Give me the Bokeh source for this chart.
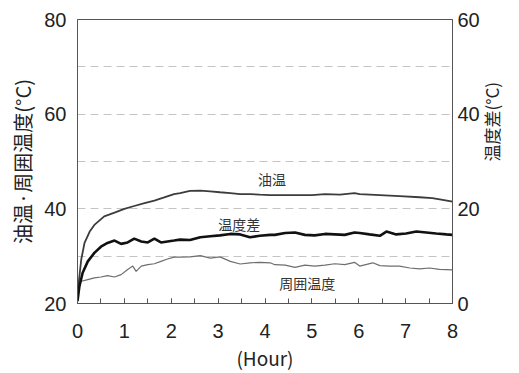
import math
from bokeh.plotting import figure
from bokeh.models import Range1d, LinearAxis, FixedTicker, Label
from bokeh.embed import file_html
from bokeh.resources import INLINE

# --- data ---
oil_h = [0.0, 0.04, 0.08, 0.15, 0.26, 0.36, 0.57, 0.79, 1.0, 1.21, 1.43, 1.64, 1.85, 2.06,
         2.19, 2.40, 2.62, 2.83, 3.04, 3.26, 3.47, 3.68, 3.89, 4.11, 4.5, 5.0, 5.28, 5.6,
         5.91, 6.02, 6.45, 6.87, 7.30, 7.57, 7.79, 8.0]
oil_t = [22.0, 25.7, 29.3, 32.8, 35.2, 36.6, 38.4, 39.2, 40.0, 40.6, 41.2, 41.75, 42.4, 43.1,
         43.3, 43.8, 43.85, 43.7, 43.5, 43.3, 43.1, 43.1, 43.0, 42.9, 42.9, 42.9, 43.1, 43.0,
         43.3, 43.1, 42.9, 42.7, 42.45, 42.25, 41.9, 41.5]

diff_h = [0.0, 0.04, 0.11, 0.22, 0.36, 0.50, 0.64, 0.79, 0.93, 1.07, 1.21, 1.36, 1.50, 1.64,
          1.78, 1.92, 2.06, 2.19, 2.40, 2.62, 2.83, 3.04, 3.26, 3.47, 3.68, 3.89, 4.11, 4.21,
          4.43, 4.64, 4.85, 5.06, 5.28, 5.49, 5.70, 5.91, 6.02, 6.23, 6.45, 6.59, 6.80, 7.01,
          7.23, 7.44, 7.65, 7.87, 8.0]
diff_t = [0.5, 3.6, 6.5, 8.9, 10.7, 12.0, 12.8, 13.3, 12.6, 12.9, 13.7, 13.1, 12.9, 13.7,
          12.9, 13.1, 13.3, 13.5, 13.4, 14.0, 14.2, 14.4, 14.7, 14.6, 14.0, 14.3, 14.5, 14.5,
          14.9, 15.0, 14.5, 14.4, 14.7, 14.6, 14.5, 15.0, 14.9, 14.6, 14.3, 15.2, 14.6, 14.8,
          15.2, 15.0, 14.8, 14.6, 14.5]

amb_h = [0.0, 0.03, 0.08, 0.22, 0.36, 0.50, 0.64, 0.79, 0.93, 1.07, 1.18, 1.25, 1.36, 1.50,
         1.64, 1.78, 1.92, 2.06, 2.19, 2.40, 2.62, 2.83, 3.04, 3.26, 3.47, 3.68, 3.89, 4.11,
         4.21, 4.43, 4.64, 4.85, 5.06, 5.28, 5.49, 5.70, 5.91, 6.02, 6.30, 6.45, 6.66, 6.87,
         7.09, 7.30, 7.51, 7.72, 8.0]
amb_t = [21.0, 24.0, 24.7, 25.05, 25.4, 25.6, 25.9, 25.6, 26.1, 27.2, 27.9, 26.8, 27.9, 28.2,
         28.4, 28.9, 29.4, 29.8, 29.8, 29.85, 30.1, 29.6, 29.85, 28.9, 28.35, 28.6, 28.7, 28.6,
         28.2, 28.1, 27.65, 28.1, 27.9, 28.1, 28.4, 28.2, 28.7, 27.9, 28.6, 28.0, 27.9, 27.9,
         27.5, 27.3, 27.5, 27.2, 27.1]

x_ticks = [0, 1, 2, 3, 4, 5, 6, 7, 8]
left_ticks = [20, 40, 60, 80]
right_ticks = [0, 20, 40, 60]
grid_ticks = [30, 40, 50, 60, 70]

JP = "Noto Sans CJK JP"
NUM = "Liberation Sans"

p = figure(width=519, height=373, output_backend="svg", toolbar_location=None,
           x_range=Range1d(0, 8), y_range=Range1d(20, 80),
           min_border_left=77, min_border_right=66, min_border_top=19, min_border_bottom=69)
p.extra_y_ranges = {"diff": Range1d(0, 60)}

p.outline_line_color = "#555555"
p.outline_line_width = 1
p.background_fill_color = "white"
p.border_fill_color = "white"

# x axis
xa = p.xaxis[0]
xa.ticker = FixedTicker(ticks=x_ticks, minor_ticks=[i * 0.5 for i in range(17)])
xa.major_tick_in = 5
xa.major_tick_out = 0
xa.minor_tick_in = 5
xa.minor_tick_out = 0
xa.major_tick_line_color = "#555555"
xa.minor_tick_line_color = "#555555"
xa.axis_line_color = "#555555"
xa.major_label_text_font = NUM
xa.major_label_text_font_size = "20px"
xa.major_label_text_color = "#222222"
xa.major_label_standoff = 20
xa.axis_label = "(Hour)"
xa.axis_label_text_font = JP
xa.axis_label_text_font_size = "19px"
xa.axis_label_text_font_style = "normal"
xa.axis_label_text_color = "#222222"
xa.axis_label_standoff = 3

# left axis
ya = p.yaxis[0]
ya.ticker = FixedTicker(ticks=left_ticks)
ya.major_tick_in = 0
ya.major_tick_out = 0
ya.minor_tick_line_color = None
ya.axis_line_color = "#555555"
ya.major_label_text_font = NUM
ya.major_label_text_font_size = "20px"
ya.major_label_text_color = "#222222"
ya.major_label_standoff = 11
ya.axis_label = "油温·周囲温度(°C)"
ya.axis_label_text_font = JP
ya.axis_label_text_font_size = "20px"
ya.axis_label_text_font_style = "normal"
ya.axis_label_text_color = "#222222"
ya.axis_label_standoff = 4

# right axis
ra = LinearAxis(y_range_name="diff", ticker=FixedTicker(ticks=right_ticks))
ra.major_tick_in = 0
ra.major_tick_out = 0
ra.minor_tick_line_color = None
ra.axis_line_color = "#555555"
ra.major_label_text_font = NUM
ra.major_label_text_font_size = "20px"
ra.major_label_text_color = "#222222"
ra.major_label_standoff = 5
ra.axis_label = "温度差(°C)"
ra.axis_label_text_font = JP
ra.axis_label_text_font_size = "17px"
ra.axis_label_text_font_style = "normal"
ra.axis_label_text_color = "#222222"
ra.axis_label_standoff = 9
ra.axis_label_orientation = math.pi / 2
p.add_layout(ra, "right")

# grid
p.xgrid.grid_line_color = None
p.ygrid.ticker = FixedTicker(ticks=grid_ticks)
p.ygrid.grid_line_color = "#c4c4c4"
p.ygrid.grid_line_dash = "8 5"
p.ygrid.grid_line_width = 1

# lines
p.line(amb_h, amb_t, line_color="#6e6e6e", line_width=1.2)
p.line(oil_h, oil_t, line_color="#3c3c3c", line_width=1.8)
p.line(diff_h, diff_t, line_color="#111111", line_width=2.6, y_range_name="diff")

# series labels
for txt, xx, yy in [("油温", 4.15, 46.2), ("温度差", 3.45, 36.8), ("周囲温度", 4.9, 24.3)]:
    p.add_layout(Label(x=xx, y=yy, text=txt, text_font=JP, text_font_size="14px",
                       text_color="#333333", text_align="center", text_baseline="middle"))

open("out.html", "w").write(file_html(p, INLINE))
